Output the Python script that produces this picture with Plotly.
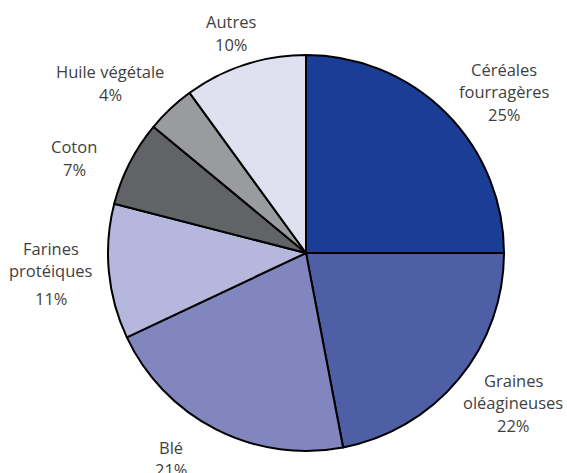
import plotly.graph_objects as go

# Share of each commodity group (percent)
categories = ["Céréales fourragères", "Graines oléagineuses", "Blé",
              "Farines protéiques", "Coton", "Huile végétale", "Autres"]
shares = [25, 22, 21, 11, 7, 4, 10]
colors = ["#1a3d96", "#4f5fa6", "#8187be", "#b5b8dc", "#626366", "#9a9b9f", "#dfe0f0"]

# How each label breaks over lines
label_lines = [["Céréales", "fourragères"], ["Graines", "oléagineuses"], ["Blé"],
               ["Farines", "protéiques"], ["Coton"], ["Huile végétale"], ["Autres"]]

# Label centre x and first-line y, in pixels from the top-left of the canvas
label_px = [(504, 69), (513, 380), (171, 447), (51, 248), (74, 147), (110, 72), (231, 22)]
line_gap = 22.5
W, H = 567, 473

fig = go.Figure(go.Pie(
    labels=categories,
    values=shares,
    sort=False,
    direction="clockwise",
    rotation=0,
    textinfo="none",
    hoverinfo="label+percent",
    marker=dict(colors=colors, line=dict(color="black", width=2)),
    domain=dict(x=[107 / W, 505 / W], y=[1 - 451 / H, 1 - 55 / H]),
    showlegend=False,
))

font = dict(family="Open Sans", size=16.5, color="#3f3f3f")
for lines, val, (px, py) in zip(label_lines, shares, label_px):
    rows = lines + [f"{val}%"]
    for i, row in enumerate(rows):
        y = py + i * line_gap
        if row.endswith("%") and len(lines) == 2 and lines[0] == "Farines":
            y += 5
        fig.add_annotation(
            x=px / W, y=1 - y / H, xref="paper", yref="paper",
            text=row, showarrow=False,
            xanchor="center", yanchor="middle", align="center",
            font=font,
        )

fig.update_layout(
    width=W, height=H,
    margin=dict(l=0, r=0, t=0, b=0),
    paper_bgcolor="white", plot_bgcolor="white",
)

fig.write_html("out.html")
